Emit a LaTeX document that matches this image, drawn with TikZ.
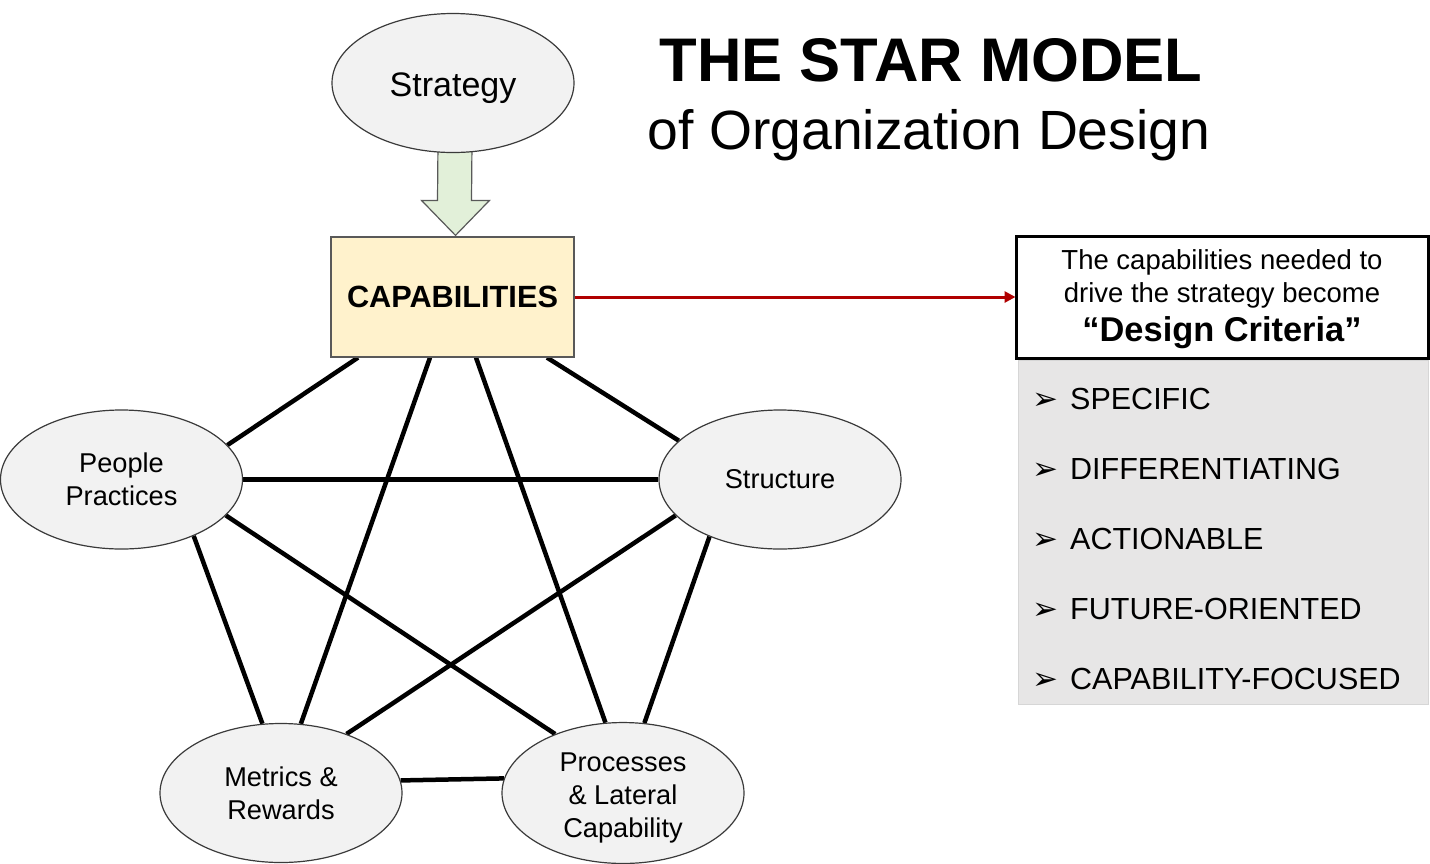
\documentclass[tikz,border=0pt]{standalone}
\usepackage{fontspec}
\setmainfont{Liberation Sans}
\newfontfamily\dejavu{DejaVu Sans}
\usetikzlibrary{shapes.geometric,arrows.meta,calc,backgrounds}
\definecolor{ovalfill}{HTML}{F2F2F2}
\definecolor{ovalline}{HTML}{3A3A3A}
\definecolor{capfill}{HTML}{FFF2CC}
\definecolor{capline}{HTML}{595959}
\definecolor{arrowfill}{HTML}{E2F0D9}
\definecolor{listfill}{HTML}{E7E6E6}
\definecolor{listline}{HTML}{D6D6D6}
\definecolor{darkred}{HTML}{B00000}
\begin{document}
\begin{tikzpicture}[x=1pt,y=1pt,
  oval/.style={ellipse,draw=ovalline,line width=1.2pt,fill=ovalfill,minimum width=242pt,minimum height=139pt,inner sep=0pt,align=center,font=\fontsize{27.2}{33}\selectfont},
  link/.style={line width=4.5pt,black},
  item/.style={anchor=base west,inner sep=0pt,font=\fontsize{30.5}{36}\selectfont},
  bul/.style={anchor=base west,inner sep=0pt,font=\dejavu\fontsize{31}{36}\selectfont},
]
\useasboundingbox (0,0) rectangle (1430,-863);
% nodes
\node[oval,text height=35pt] (strategy) at (453,-83) {\fontsize{34}{40}\selectfont Strategy};
\node[rectangle,draw=capline,line width=1.2pt,fill=capfill,minimum width=243pt,minimum height=120pt,inner sep=0pt,font=\bfseries\fontsize{30.7}{36}\selectfont] (cap) at (452.5,-297) {CAPABILITIES};
\node[oval] (people) at (121.5,-479.5) {People\\Practices};
\node[oval] (structure) at (780,-479.5) {Structure};
\node[oval] (metrics) at (281,-793) {Metrics \&\\Rewards};
\node[oval] (proc) at (623,-793) {\rule{0pt}{28pt}Processes\\\& Lateral\\Capability};
% title
\node[anchor=base,inner sep=0pt,font=\bfseries\fontsize{61.6}{70}\selectfont] (title1) at (931,-81) {THE STAR MODEL};
\node[anchor=base,inner sep=0pt,font=\fontsize{55.3}{64}\selectfont] (title2) at (929,-149) {of Organization Design};
% design criteria box
\node[rectangle,draw=black,line width=3pt,fill=white,minimum width=412pt,minimum height=122pt,inner sep=0pt] (dc) at (1222,-297) {};
\node[align=center,inner sep=0pt,font=\fontsize{27.5}{33}\selectfont] (dctext) at ($(dc.center)+(0,-2)$) {The capabilities needed to\\drive the strategy become\\[6pt]{\bfseries\fontsize{34.4}{40}\selectfont “Design Criteria”}};
\node[rectangle,draw=listline,line width=0.8pt,fill=listfill,minimum width=410pt,minimum height=344pt,inner sep=0pt] (list) at (1223,-532) {};
\node[bul] (b1) at (1032,-409) {➢};
\node[item] (i1) at (1070,-409) {SPECIFIC};
\node[bul] (b2) at (1032,-479) {➢};
\node[item] (i2) at (1070,-479) {DIFFERENTIATING};
\node[bul] (b3) at (1032,-549) {➢};
\node[item] (i3) at (1070,-549) {ACTIONABLE};
\node[bul] (b4) at (1032,-619) {➢};
\node[item] (i4) at (1070,-619) {FUTURE-ORIENTED};
\node[bul] (b5) at (1032,-689) {➢};
\node[item] (i5) at (1070,-689) {CAPABILITY-FOCUSED};
% red arrow
\draw[darkred,line width=3pt,-{Triangle[length=11pt,width=11pt]},shorten >=-1pt] (cap.east) -- (dc.west);
\begin{scope}[on background layer]
  % block arrow from strategy to capabilities
  \draw[capline,line width=1.2pt,fill=arrowfill,line join=miter]
    ($(strategy.south)+(-15,10)$) -- ($(cap.north)+(-15,36)$) -- ($(cap.north)+(-31,36)$)
    -- ($(cap.north)+(3,1)$) -- ($(cap.north)+(37,36)$) -- ($(cap.north)+(19,36)$)
    -- ($(strategy.south)+(19,10)$) -- cycle;
  % star links
  \draw[link] ($(cap.south)+(-94.5,0)$) -- (people.18.9);
  \draw[link] ($(cap.south)+(-22.5,0)$) -- (metrics.74.2);
  \draw[link] ($(cap.south)+(23.5,0)$) -- (proc.104.2);
  \draw[link] ($(cap.south)+(94.5,0)$) -- (structure.159.7);
  \draw[link] (people.0) -- (structure.180);
  \draw[link] (people.-19.4) -- (proc.139.1);
  \draw[link] (people.-38.4) -- (metrics.105.4);
  \draw[link] (structure.199.8) -- (metrics.42.7);
  \draw[link] (structure.219.8) -- (proc.73.1);
  \draw[link] (metrics.6.2) -- (proc.173.9);
\end{scope}
\end{tikzpicture}
\end{document}
